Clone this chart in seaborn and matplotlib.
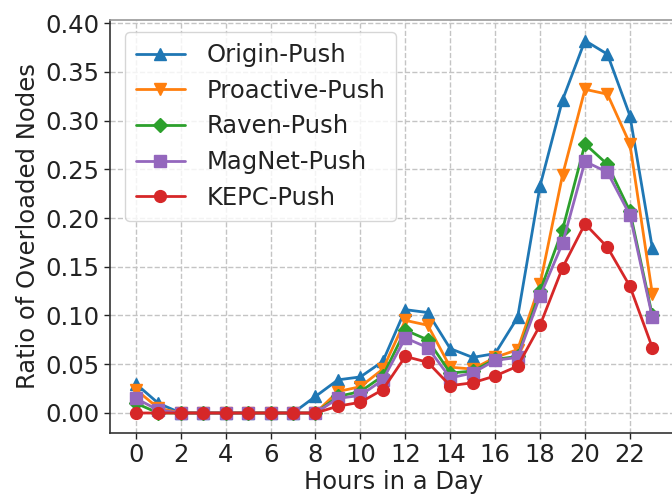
import matplotlib
matplotlib.use("Agg")
import matplotlib.pyplot as plt
import seaborn as sns
import pandas as pd

hours = list(range(24))

origin_push = [0.030, 0.010, 0, 0, 0, 0, 0, 0, 0.017, 0.034, 0.037, 0.053,
               0.106, 0.103, 0.066, 0.057, 0.061, 0.098, 0.233, 0.321,
               0.382, 0.368, 0.305, 0.169]
proactive_push = [0.024, 0.005, 0, 0, 0, 0, 0, 0, 0, 0.022, 0.027, 0.045,
                  0.095, 0.090, 0.047, 0.045, 0.057, 0.065, 0.132, 0.244,
                  0.332, 0.327, 0.276, 0.122]
raven_push = [0.010, 0, 0, 0, 0, 0, 0, 0, 0, 0.017, 0.022, 0.038,
              0.085, 0.075, 0.041, 0.043, 0.055, 0.058, 0.125, 0.188,
              0.276, 0.255, 0.207, 0.100]
magnet_push = [0.015, 0.003, 0, 0, 0, 0, 0, 0, 0, 0.015, 0.018, 0.034,
               0.077, 0.067, 0.036, 0.041, 0.054, 0.057, 0.120, 0.174,
               0.258, 0.247, 0.203, 0.098]
kepc_push = [0, 0, 0, 0, 0, 0, 0, 0, 0, 0.007, 0.011, 0.024,
             0.058, 0.052, 0.028, 0.031, 0.038, 0.048, 0.090, 0.149,
             0.194, 0.170, 0.130, 0.067]

series_names = ["Origin-Push", "Proactive-Push", "Raven-Push", "MagNet-Push", "KEPC-Push"]
series_values = [origin_push, proactive_push, raven_push, magnet_push, kepc_push]
series_markers = ["^", "v", "D", "s", "o"]

x_ticks = list(range(0, 24, 2))
y_ticks = [0.00, 0.05, 0.10, 0.15, 0.20, 0.25, 0.30, 0.35, 0.40]

sns.set_theme(style="white")
plt.rcParams["font.family"] = ["DejaVu Sans"]
tab10 = sns.color_palette("tab10", 10)
series_colors = [tab10[0], tab10[1], tab10[2], tab10[4], tab10[3]]

fig = plt.figure(figsize=(6.72, 4.95), dpi=100)
ax = fig.add_axes([0.1637, 0.1253, 0.8455, 0.8343])

for name, vals, mk, col in zip(series_names, series_values, series_markers, series_colors):
    df = pd.DataFrame({"hour": hours, "ratio": vals})
    sns.lineplot(data=df, x="hour", y="ratio", ax=ax, color=col, marker=mk,
                 markersize=8.5 if mk != "D" else 7.5, markeredgecolor=col,
                 markeredgewidth=1, linewidth=2, label=name)

ax.set_xlim(-1.15, 24.15)
ax.set_ylim(-0.0205, 0.4031)
ax.set_xticks(x_ticks)
ax.set_yticks(y_ticks)
ax.set_yticklabels([f"{v:.2f}" for v in y_ticks])
ax.tick_params(axis="both", labelsize=17.5, colors="#222222", length=4,
               width=1, direction="out", left=True, bottom=True)
ax.grid(True, linestyle="--", color="#c4c4c4", linewidth=1)
for s in ["left", "bottom", "top", "right"]:
    ax.spines[s].set_color("#333333")
    ax.spines[s].set_linewidth(1.2)
ax.spines["top"].set_color("#999999")

ax.set_xlabel("Hours in a Day", fontsize=17.5, color="#222222", labelpad=2)
ax.set_ylabel("Ratio of Overloaded Nodes", fontsize=17.5, color="#222222", labelpad=4)

leg = ax.legend(loc="upper left", fontsize=17.5, frameon=True, framealpha=0.8,
                edgecolor="#cccccc", fancybox=True, handlelength=2.0,
                handletextpad=0.9, borderpad=0.45, labelspacing=0.48,
                bbox_to_anchor=(0.005, 1.0))
for t in leg.get_texts():
    t.set_color("#222222")

fig.savefig("out.png", dpi=100)
